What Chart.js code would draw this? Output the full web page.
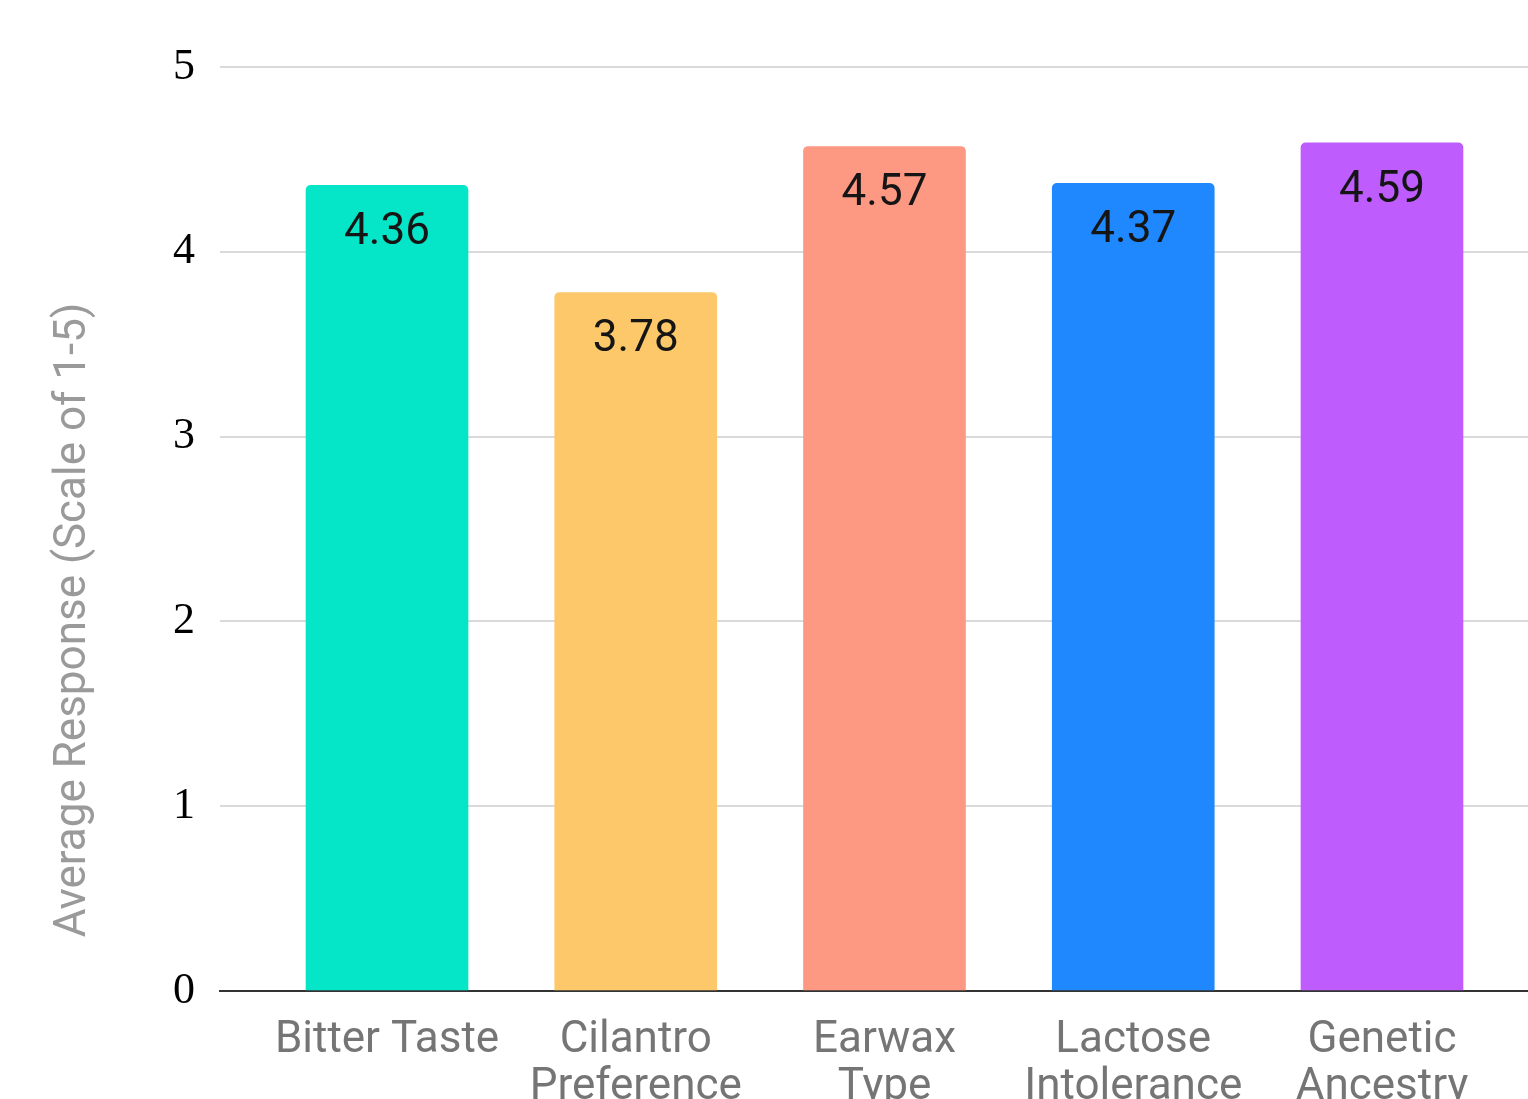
<!DOCTYPE html>
<html>
<head>
<meta charset="utf-8">
<script src="https://cdn.jsdelivr.net/npm/chart.js@4/dist/chart.umd.min.js"></script>
<style>
  html, body { margin: 0; padding: 0; background: #fff; overflow: hidden; }
  canvas { display: block; }
</style>
</head>
<body>
<canvas id="chart" width="1528" height="1160"></canvas>
<script>
// data
const categories = [['Bitter Taste'], ['Cilantro', 'Preference'], ['Earwax', 'Type'], ['Lactose', 'Intolerance'], ['Genetic', 'Ancestry']];
const averages = [4.36, 3.78, 4.57, 4.37, 4.59];
const barColors = ['#05E6C8', '#FCC86A', '#FD9883', '#1F88FE', '#BE5CFE'];
const yTicks = [0, 1, 2, 3, 4, 5];
const yTitle = 'Average Response (Scale of 1-5)';

// value labels drawn just inside the top of each bar
const valueLabels = {
    id: 'valueLabels',
    afterDatasetsDraw(chart) {
        const ctx = chart.ctx;
        const meta = chart.getDatasetMeta(0);
        ctx.save();
        ctx.font = '44px Roboto';
        ctx.fillStyle = '#151515';
        ctx.textAlign = 'center';
        ctx.textBaseline = 'middle';
        meta.data.forEach((bar, i) => {
            ctx.fillText(averages[i].toFixed(2), bar.x, bar.y + 48);
        });
        ctx.restore();
    }
};

// y axis title sits a bit below the middle of the plot in the original
const axisTitle = {
    id: 'axisTitle',
    afterDraw(chart) {
        const ctx = chart.ctx;
        const area = chart.chartArea;
        ctx.save();
        ctx.translate(74, (area.top + area.bottom) / 2 + 91);
        ctx.rotate(-Math.PI / 2);
        ctx.font = '44px Roboto';
        ctx.fillStyle = '#9a9a9a';
        ctx.textAlign = 'center';
        ctx.textBaseline = 'middle';
        ctx.fillText(yTitle, 0, 0);
        ctx.restore();
    }
};

new Chart(document.getElementById('chart').getContext('2d'), {
    type: 'bar',
    data: {
        datasets: [{
            data: averages.map((v, i) => ({ x: i, y: v })),
            backgroundColor: barColors,
            barThickness: 162,
            borderRadius: { topLeft: 5, topRight: 5, bottomLeft: 0, bottomRight: 0 },
            borderSkipped: 'start'
        }]
    },
    options: {
        responsive: false,
        animation: false,
        layout: { padding: { top: 67, right: 0, bottom: 0, left: 0 } },
        plugins: {
            legend: { display: false },
            tooltip: { enabled: false }
        },
        scales: {
            x: {
                type: 'linear',
                offset: false,
                min: -0.6714,
                max: 4.587,
                afterBuildTicks: (scale) => {
                    scale.ticks = categories.map((c, i) => ({ value: i }));
                },
                afterFit: (scale) => { scale.height = 169; },
                ticks: {
                    callback: (v) => categories[v],
                    font: { family: 'Roboto', size: 44, lineHeight: 1.07 },
                    color: '#757575',
                    padding: 18,
                    maxRotation: 0,
                    autoSkip: false
                },
                grid: { display: false },
                border: { display: true, color: '#333333', width: 2 }
            },
            y: {
                min: 0,
                max: 5,
                afterBuildTicks: (scale) => {
                    scale.ticks = yTicks.map(v => ({ value: v }));
                },
                afterFit: (scale) => { scale.width = 220; },
                ticks: {
                    font: { family: 'Liberation Serif', size: 44 },
                    color: '#000000',
                    padding: 25
                },
                grid: {
                    drawTicks: false,
                    lineWidth: 2,
                    color: (c) => c.tick && c.tick.value === 0 ? '#333333' : '#dadada'
                },
                border: { display: false }
            }
        }
    },
    plugins: [valueLabels, axisTitle]
});
</script>
</body>
</html>
